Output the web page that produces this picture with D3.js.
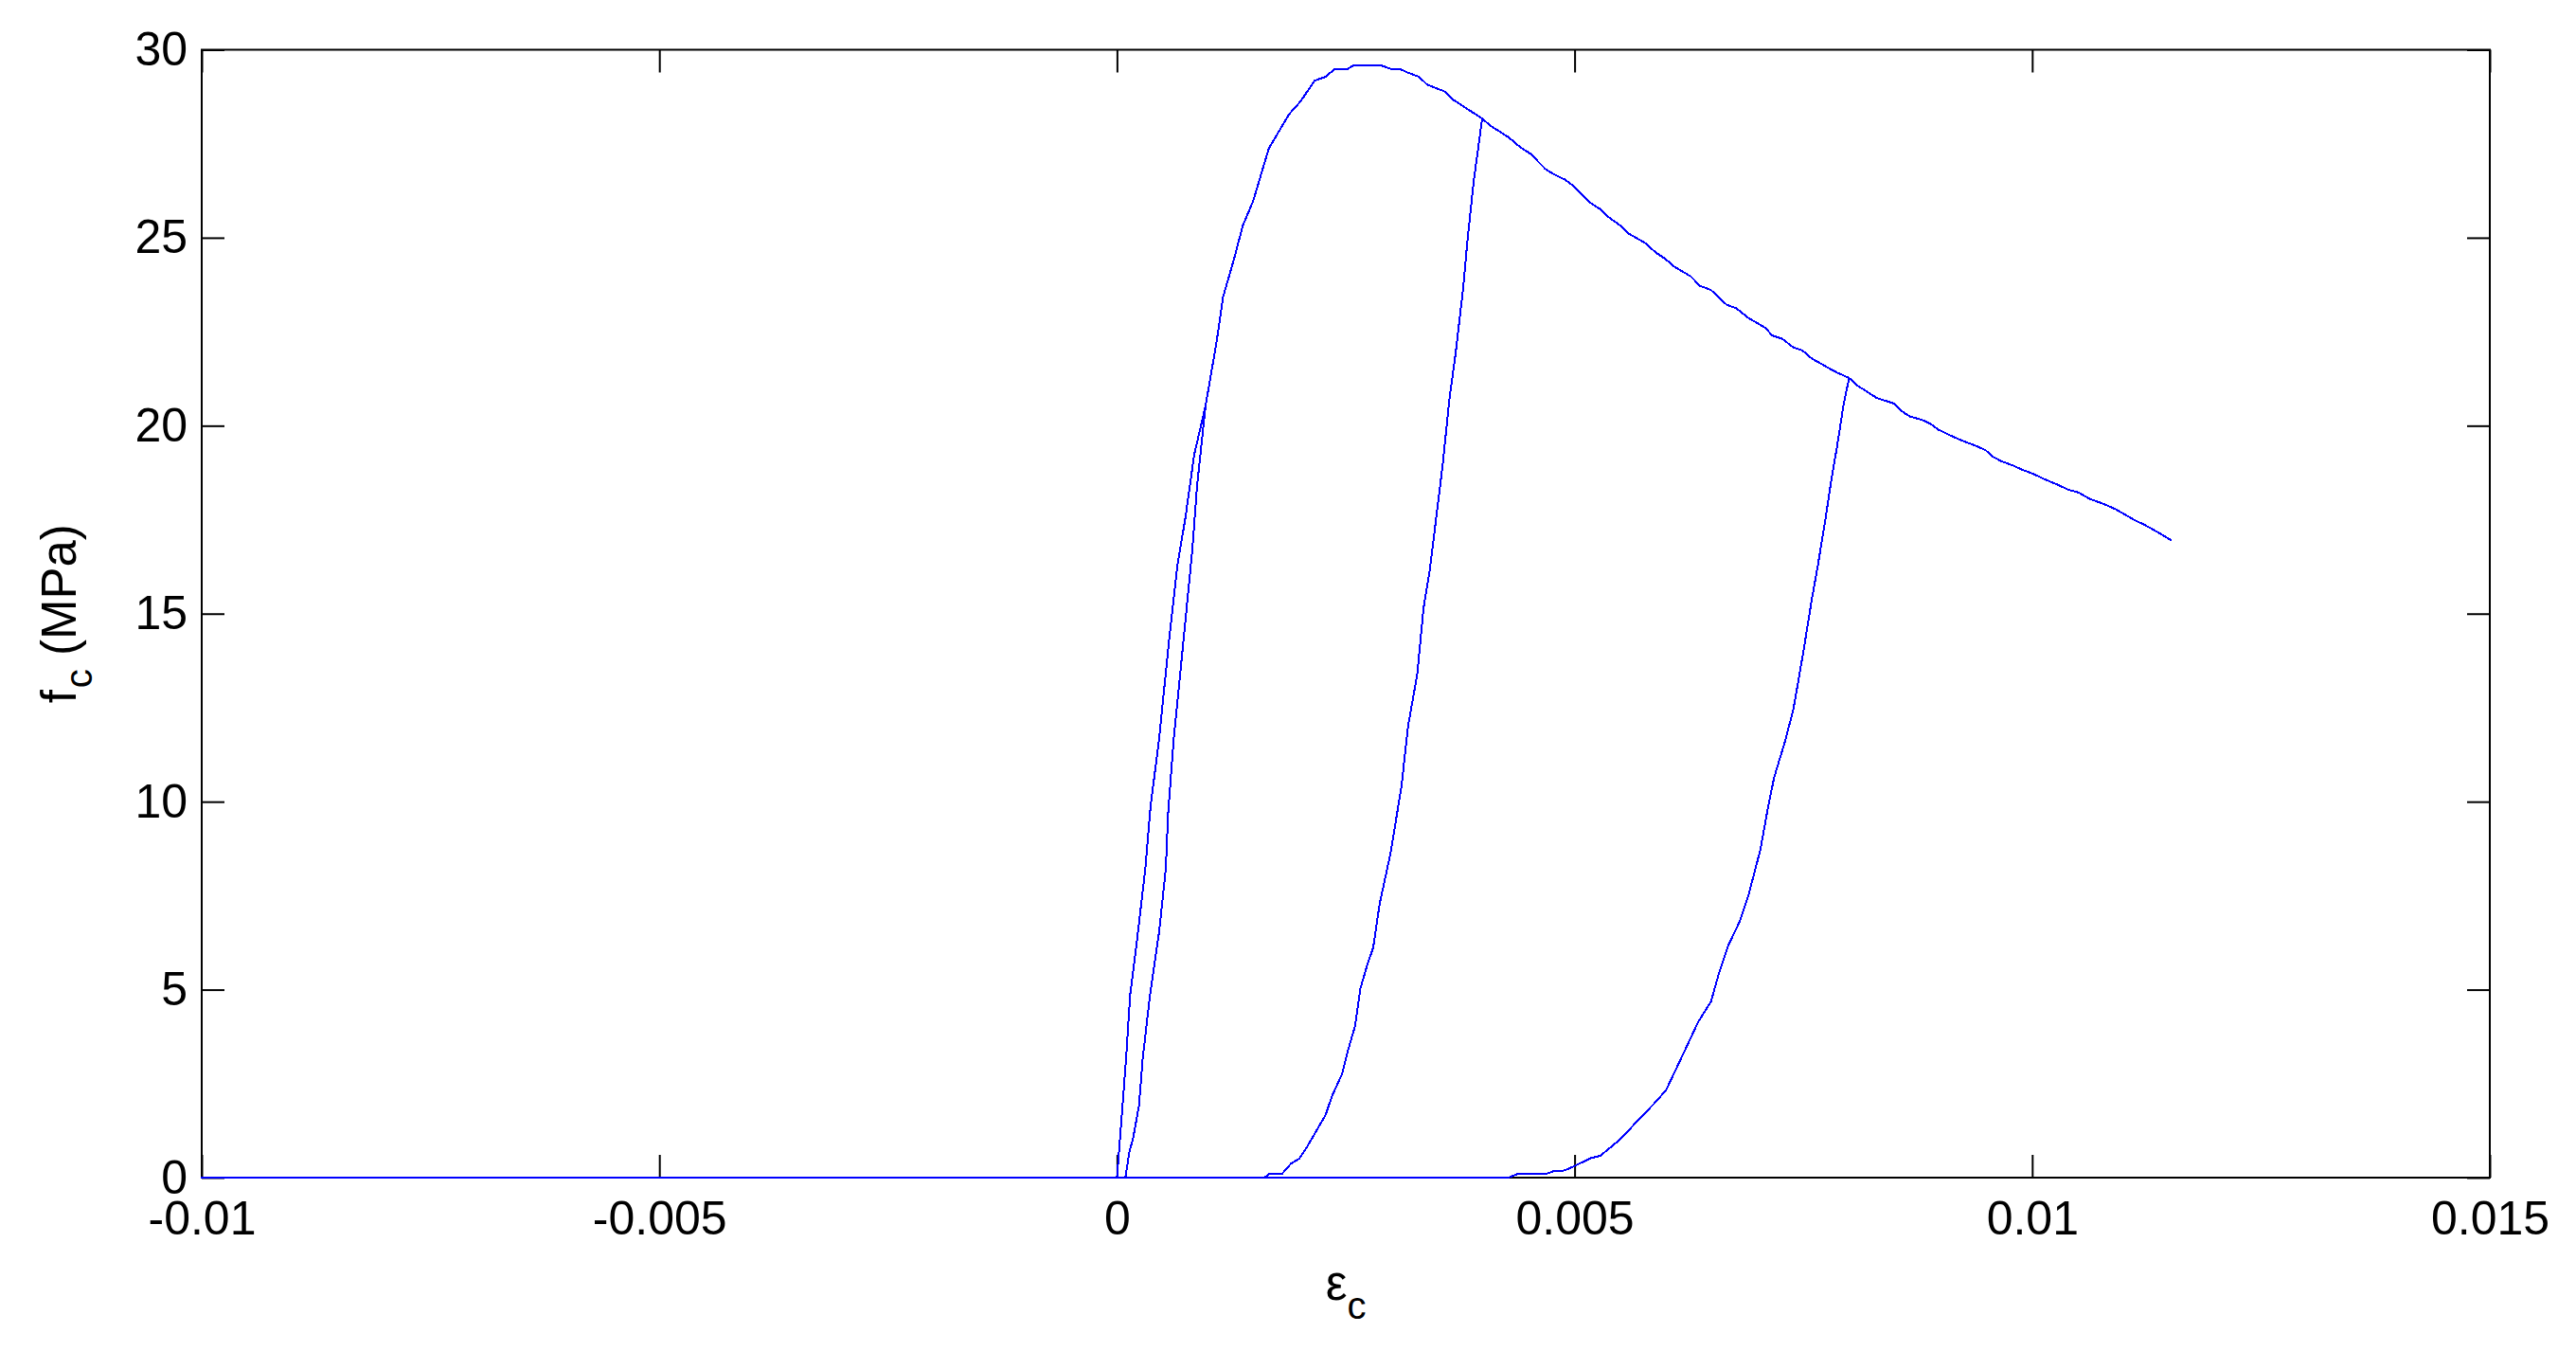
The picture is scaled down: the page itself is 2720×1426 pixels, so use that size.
<!DOCTYPE html>
<html>
<head>
<meta charset="utf-8">
<script src="https://cdn.jsdelivr.net/npm/d3@7"></script>
<style>
  html, body { margin: 0; padding: 0; background: #fff; }
  svg { display: block; }
  text { font-family: "Liberation Sans", Arial, Helvetica, sans-serif; fill: #000; }
</style>
</head>
<body>
<svg id="chart" width="2720" height="1426"></svg>
<script>
// ---- data (strain, stress in MPa) ----
const xTicks = [-0.01, -0.005, 0, 0.005, 0.01, 0.015];
const yTicks = [0, 5, 10, 15, 20, 25, 30];
const xLabel = "ε";
const yLabel = "f";
const subLabel = "c";
const yUnit = " (MPa)";
const tensionStrain = -0.01;

// monotonic envelope (compression)
const envelope = [
  [0, 0], [0.000048, 1.5], [0.0001, 3.18], [0.000144, 4.86], [0.00021, 6.12],
  [0.00031, 8.22], [0.000368, 9.9], [0.000461, 11.67], [0.000565, 14.19],
  [0.000661, 16.29], [0.000748, 17.55], [0.000844, 19.23], [0.00097, 20.55],
  [0.001007, 21.08], [0.00109, 22.25], [0.00116, 23.43], [0.00128, 24.44],
  [0.001375, 25.32], [0.00149, 25.99], [0.00166, 27.38], [0.00188, 28.28],
  [0.00201, 28.64], [0.00216, 29.18], [0.00228, 29.28], [0.00238, 29.49],
  [0.00252, 29.49], [0.00259, 29.59], [0.00288, 29.59], [0.00299, 29.49],
  [0.00309, 29.49], [0.00318, 29.39], [0.0033, 29.28], [0.00339, 29.07],
  [0.00358, 28.89], [0.00368, 28.66], [0.0038, 28.47], [0.00399, 28.17],
  [0.00408, 27.98], [0.00428, 27.67], [0.0044, 27.42], [0.00452, 27.23],
  [0.00468, 26.83], [0.00477, 26.69], [0.0049, 26.54], [0.00499, 26.37],
  [0.00516, 25.95], [0.00528, 25.76], [0.00537, 25.55], [0.00549, 25.34],
  [0.00559, 25.11], [0.00577, 24.86], [0.00589, 24.6], [0.00599, 24.44],
  [0.00609, 24.23], [0.00627, 23.97], [0.00637, 23.72], [0.00649, 23.61],
  [0.00666, 23.22], [0.00677, 23.12], [0.00689, 22.88], [0.00708, 22.61],
  [0.00716, 22.4], [0.00727, 22.31], [0.00739, 22.08], [0.00749, 22.0],
  [0.00759, 21.79], [0.00777, 21.54], [0.00787, 21.41], [0.008, 21.27],
  [0.00808, 21.08], [0.00818, 20.93], [0.0083, 20.74], [0.00849, 20.59],
  [0.00859, 20.36], [0.00866, 20.25], [0.0088, 20.15], [0.00889, 20.05],
  [0.00897, 19.9], [0.00915, 19.69], [0.00928, 19.56], [0.00939, 19.46],
  [0.00949, 19.35], [0.00958, 19.16], [0.00966, 19.06], [0.0098, 18.93],
  [0.00989, 18.83], [0.01001, 18.72], [0.01015, 18.56], [0.01028, 18.43],
  [0.01039, 18.3], [0.01051, 18.22], [0.01063, 18.05], [0.01077, 17.93],
  [0.01091, 17.78], [0.01101, 17.64], [0.01111, 17.5], [0.01123, 17.36],
  [0.01137, 17.17], [0.01152, 16.95]
];

// unloading branches, from the envelope down to zero stress
const unload1 = [
  [0.00097, 20.55], [0.000948, 20.07], [0.000875, 18.39], [0.000824, 16.71],
  [0.000723, 14.19], [0.00062, 11.67], [0.000558, 9.65], [0.000534, 8.22],
  [0.000461, 6.54], [0.000361, 4.86], [0.000282, 3.18], [0.000241, 1.92],
  [0.000179, 1.08], [0.000134, 0.66], [0.000092, 0]
];
const unload2 = [
  [0.00399, 28.17], [0.00397, 27.8], [0.0039, 26.54], [0.00383, 24.94],
  [0.00378, 23.6], [0.0037, 21.92], [0.00363, 20.66], [0.00356, 18.98],
  [0.00342, 16.2], [0.00335, 15.15], [0.00328, 13.37], [0.00318, 12.0],
  [0.00311, 10.43], [0.00304, 9.38], [0.00299, 8.64], [0.00287, 7.28],
  [0.0028, 6.12], [0.00273, 5.62], [0.00266, 5.03], [0.0026, 4.02],
  [0.00252, 3.35], [0.00246, 2.76], [0.00235, 2.17], [0.00228, 1.67],
  [0.00218, 1.25], [0.00208, 0.83], [0.00199, 0.5], [0.0019, 0.37],
  [0.0018, 0.09], [0.00166, 0.09], [0.00161, 0]
];
const unload3 = [
  [0.008, 21.27], [0.00794, 20.57], [0.00787, 19.48], [0.0078, 18.47],
  [0.00774, 17.5], [0.00766, 16.31], [0.00759, 15.35], [0.00751, 14.14],
  [0.00746, 13.42], [0.00739, 12.45], [0.0073, 11.61], [0.00718, 10.64],
  [0.00711, 9.8], [0.00703, 8.72], [0.0069, 7.51], [0.0068, 6.79],
  [0.00668, 6.18], [0.00658, 5.46], [0.00649, 4.68], [0.00635, 4.14],
  [0.00621, 3.41], [0.006, 2.33], [0.00587, 1.97], [0.00577, 1.72],
  [0.00549, 1.0], [0.00528, 0.58], [0.00518, 0.52], [0.005, 0.31],
  [0.00489, 0.19], [0.00478, 0.18], [0.00468, 0.09], [0.00437, 0.09],
  [0.00428, 0]
];

// ---- build the full strain history: load, unload, go into tension, reload ----
const branches = [unload1, unload2, unload3];
const history = [];
let prevStrain = -Infinity;
branches.forEach(br => {
  const peak = br[0][0];
  envelope.filter(p => p[0] >= prevStrain && p[0] < peak).forEach(p => history.push(p));
  br.forEach(p => history.push(p));
  history.push([tensionStrain, 0]);
  br.slice().reverse().forEach(p => history.push(p));
  prevStrain = peak;
});
envelope.filter(p => p[0] > prevStrain).forEach(p => history.push(p));

// ---- layout ----
const W = 2720, H = 1426;
const plot = { left: 213, right: 2629, top: 52.5, bottom: 1243 };
const svg = d3.select("#chart");
svg.append("rect").attr("width", W).attr("height", H).attr("fill", "#fff");

const x = d3.scaleLinear().domain([xTicks[0], xTicks[xTicks.length - 1]]).range([plot.left, plot.right]);
const y = d3.scaleLinear().domain([yTicks[0], yTicks[yTicks.length - 1]]).range([plot.bottom, plot.top]);

const tickLen = 24;
const fontSize = 50;

function styleAxis(g) {
  g.select(".domain").remove();
  g.selectAll(".tick line").attr("stroke", "#000").attr("stroke-width", 2);
  g.selectAll(".tick text").attr("font-size", fontSize)
    .attr("font-family", '"Liberation Sans", Arial, Helvetica, sans-serif').attr("fill", "#000");
}

svg.append("g").attr("transform", `translate(0,${plot.bottom})`)
  .call(d3.axisBottom(x).tickValues(xTicks).tickFormat(d => String(d))
    .tickSizeInner(-tickLen).tickSizeOuter(0).tickPadding(24))
  .call(styleAxis);
svg.append("g").attr("transform", `translate(0,${plot.top})`)
  .call(d3.axisTop(x).tickValues(xTicks).tickFormat("")
    .tickSizeInner(-tickLen).tickSizeOuter(0))
  .call(styleAxis);
svg.append("g").attr("transform", `translate(${plot.left},0)`)
  .call(d3.axisLeft(y).tickValues(yTicks).tickFormat(d => String(d))
    .tickSizeInner(-tickLen).tickSizeOuter(0).tickPadding(15))
  .call(styleAxis);
svg.append("g").attr("transform", `translate(${plot.right},0)`)
  .call(d3.axisRight(y).tickValues(yTicks).tickFormat("")
    .tickSizeInner(-tickLen).tickSizeOuter(0))
  .call(styleAxis);

svg.append("rect")
  .attr("x", plot.left).attr("y", plot.top)
  .attr("width", plot.right - plot.left).attr("height", plot.bottom - plot.top)
  .attr("fill", "none").attr("stroke", "#000").attr("stroke-width", 2);

// ---- axis labels ----
const xl = svg.append("text")
  .attr("x", (plot.left + plot.right) / 2).attr("y", 1372)
  .attr("text-anchor", "middle").attr("font-size", 51);
xl.append("tspan").text(xLabel);
xl.append("tspan").attr("dy", 20).attr("font-size", 40).text(subLabel);

const yl = svg.append("text")
  .attr("transform", `translate(80,${(plot.top + plot.bottom) / 2}) rotate(-90)`)
  .attr("text-anchor", "middle").attr("font-size", 51);
yl.append("tspan").text(yLabel);
yl.append("tspan").attr("dx", 2).attr("dy", 17).attr("font-size", 40).text(subLabel);
yl.append("tspan").attr("dy", -17).text(yUnit);

// ---- curve ----
const line = d3.line().x(d => x(d[0])).y(d => y(d[1]));
svg.append("path").datum(history)
  .attr("d", line)
  .attr("fill", "none")
  .attr("stroke", "#0000ff")
  .attr("stroke-width", 2)
  .attr("stroke-linejoin", "round")
  .attr("shape-rendering", "crispEdges");
</script>
</body>
</html>
